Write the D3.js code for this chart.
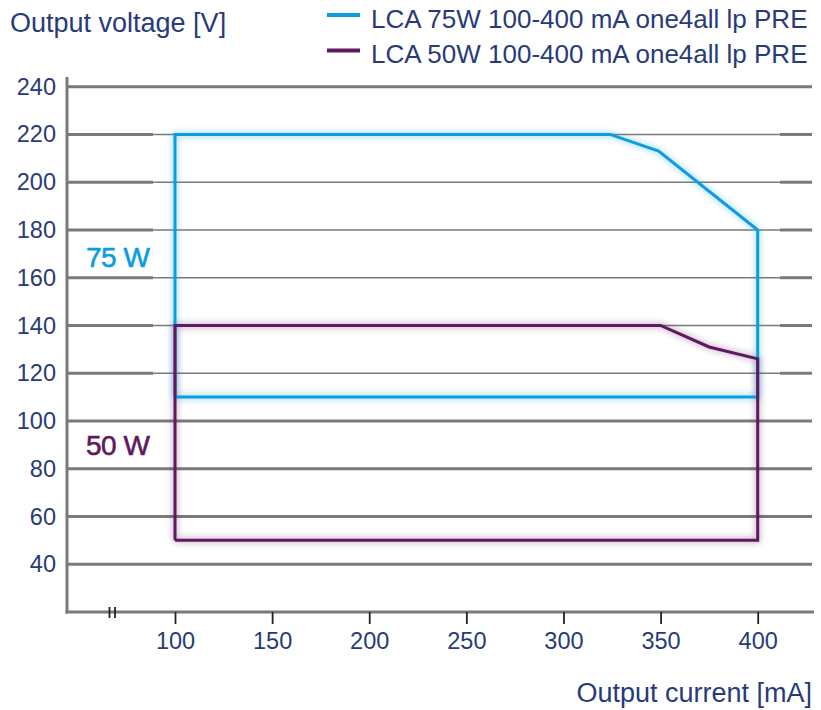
<!DOCTYPE html>
<html><head><meta charset="utf-8">
<script src="https://cdn.jsdelivr.net/npm/d3@7"></script>
<style>body{margin:0;background:#fff}svg{display:block}text{font-family:"Liberation Sans",Arial,sans-serif}</style>
</head><body><svg id="c" width="821" height="710"></svg>
<script>
const yTicks = [40,60,80,100,120,140,160,180,200,220,240];
const xTicks = [100,150,200,250,300,350,400];
const series75Current = [100,100,324,349,400,400,100];
const series75Voltage = [110,220,220,213,180,110,110];
const series50Current = [100,100,350,375,400,400,100];
const series50Voltage = [50,140,140,131,126,50,50];
const seriesNames = ["LCA 75W 100-400 mA one4all lp PRE","LCA 50W 100-400 mA one4all lp PRE"];
const seriesColors = ["#0a9ee0","#5e1a5e"];
const labelColor = "#283b78";

const svg = d3.select("#c");
const x = d3.scaleLinear().domain([100,400]).range([175,757.7]);
const y = d3.scaleLinear().domain([20,240]).range([612,86.7]);
const x0 = 67, xEnd = 812;

const defs = svg.append("defs");
seriesColors.forEach((c,i)=>{
  const f = defs.append("filter").attr("id","glow"+i).attr("x","-10%").attr("y","-10%").attr("width","120%").attr("height","120%");
  f.append("feGaussianBlur").attr("in","SourceGraphic").attr("stdDeviation",3);
});

// gridlines
const gridCol = "#7a7a7a";
yTicks.forEach(v=>{
  const yy = y(v);
  if (v>=120 && v<=220) {
    svg.append("line").attr("x1",x0).attr("x2",153).attr("y1",yy).attr("y2",yy).attr("stroke",gridCol).attr("stroke-width",3);
    svg.append("line").attr("x1",153).attr("x2",780).attr("y1",yy).attr("y2",yy).attr("stroke",gridCol).attr("stroke-width",1.6);
    svg.append("line").attr("x1",780).attr("x2",xEnd).attr("y1",yy).attr("y2",yy).attr("stroke",gridCol).attr("stroke-width",3);
  } else {
    svg.append("line").attr("x1",x0).attr("x2",xEnd).attr("y1",yy).attr("y2",yy).attr("stroke",gridCol).attr("stroke-width",3);
  }
});

// axes lines
svg.append("line").attr("x1",x0).attr("x2",x0).attr("y1",77).attr("y2",y(20)+1.5).attr("stroke",gridCol).attr("stroke-width",3);
svg.append("line").attr("x1",x0-1.5).attr("x2",xEnd+2).attr("y1",y(20)).attr("y2",y(20)).attr("stroke",gridCol).attr("stroke-width",3);

// x ticks
const xAxis = d3.axisBottom(x).tickValues(xTicks).tickSize(12).tickPadding(8);
const gx = svg.append("g").attr("transform",`translate(0,${y(20)})`).call(xAxis);
gx.select(".domain").remove();
gx.selectAll(".tick line").attr("stroke","#222").attr("stroke-width",1.8);
gx.selectAll(".tick text").attr("fill",labelColor).attr("font-size",23.5).attr("font-family","Liberation Sans, Arial, sans-serif");

// y labels
const yAxis = d3.axisLeft(y).tickValues(yTicks).tickSize(0).tickPadding(11);
const gy = svg.append("g").attr("transform",`translate(${x0},0)`).call(yAxis);
gy.select(".domain").remove();
gy.selectAll(".tick text").attr("fill",labelColor).attr("font-size",23.5).attr("font-family","Liberation Sans, Arial, sans-serif");

// break mark
[109.5,115].forEach(bx=>svg.append("line").attr("x1",bx).attr("x2",bx).attr("y1",y(20)-5).attr("y2",y(20)+6).attr("stroke","#222").attr("stroke-width",1.8));

// series
const line = d3.line().x(d=>x(d[0])).y(d=>y(d[1]));
const s75 = series75Current.map((c,i)=>[c,series75Voltage[i]]);
const s50 = series50Current.map((c,i)=>[c,series50Voltage[i]]);
svg.append("path").datum(s75).attr("d",line).attr("fill","none").attr("stroke",seriesColors[0]).attr("stroke-width",5).attr("opacity",0.35).attr("filter","url(#glow0)");
svg.append("path").datum(s50).attr("d",line).attr("fill","none").attr("stroke",seriesColors[1]).attr("stroke-width",5).attr("opacity",0.35).attr("filter","url(#glow1)");
svg.append("path").datum(s75).attr("d",line).attr("fill","none").attr("stroke",seriesColors[0]).attr("stroke-width",3);
svg.append("path").datum(s50).attr("d",line).attr("fill","none").attr("stroke",seriesColors[1]).attr("stroke-width",3);

// labels
svg.append("text").attr("x",86).attr("y",267).attr("fill",seriesColors[0]).attr("stroke",seriesColors[0]).attr("stroke-width",0.6).attr("font-size",28).attr("letter-spacing",-0.5).text("75 W");
svg.append("text").attr("x",86).attr("y",455).attr("fill",seriesColors[1]).attr("stroke",seriesColors[1]).attr("stroke-width",0.6).attr("font-size",28).attr("letter-spacing",-0.5).text("50 W");

svg.append("text").attr("x",10).attr("y",32).attr("fill",labelColor).attr("font-size",27).text("Output voltage [V]");
svg.append("text").attr("x",812).attr("y",702).attr("text-anchor","end").attr("fill",labelColor).attr("font-size",27).text("Output current [mA]");

// legend
seriesNames.forEach((n,i)=>{
  const ly = 15 + i*35.5;
  svg.append("line").attr("x1",327).attr("x2",360).attr("y1",ly).attr("y2",ly).attr("stroke",seriesColors[i]).attr("stroke-width",4);
  svg.append("text").attr("x",371).attr("y",ly+12.5).attr("fill",labelColor).attr("font-size",26).text(n);
});
</script></body></html>
